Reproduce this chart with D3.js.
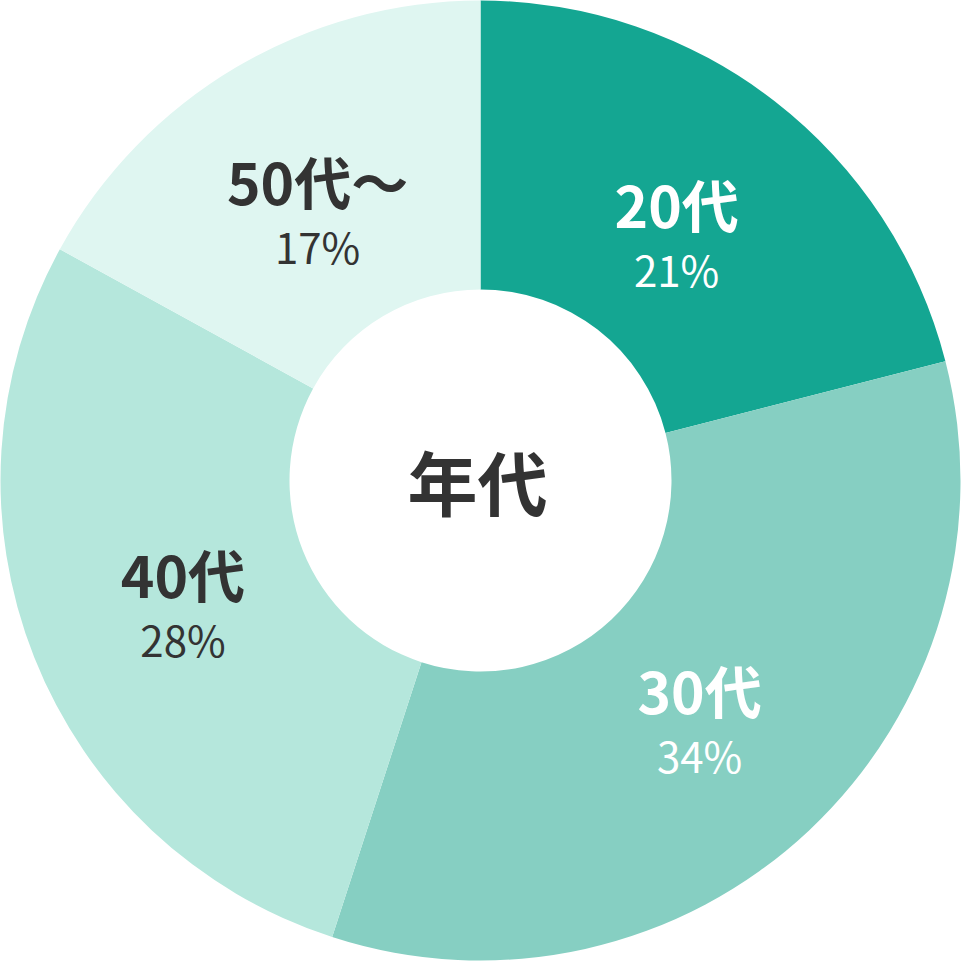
<!DOCTYPE html>
<html><head><meta charset="utf-8">
<script src="https://cdn.jsdelivr.net/npm/d3@7/dist/d3.min.js"></script>
<style>html,body{margin:0;padding:0;background:#fff;}svg{display:block;}</style>
</head><body>
<svg id="c" width="961" height="961"></svg>
<script>
const categories = ["20代", "30代", "40代", "50代～"];
const values = [21, 34, 28, 17];
const percentLabels = ["21%", "34%", "28%", "17%"];
const colors = ["#14a692", "#86cfc2", "#b5e7dc", "#dff6f1"];
const textColors = ["#ffffff", "#ffffff", "#333333", "#333333"];
const centerTitle = "年代";

const W = 961, H = 961, cx = 480.5, cy = 480.5;
const outerR = 480, innerR = 191;
const svg = d3.select("#c");
const g = svg.append("g").attr("transform", `translate(${cx},${cy})`);

const data = categories.map((c, i) => ({cat: c, v: values[i], pct: percentLabels[i], color: colors[i], tc: textColors[i]}));
const pie = d3.pie().value(d => d.v).sort(null);
const arcs = pie(data);
const arc = d3.arc().innerRadius(innerR).outerRadius(outerR);
const labelArc = d3.arc().innerRadius(320).outerRadius(320);

g.selectAll("path").data(arcs).join("path")
  .attr("d", arc).attr("fill", d => d.data.color);

const font = "'Noto Sans CJK JP', 'Noto Sans', sans-serif";
const lbl = g.selectAll("text.lbl").data(arcs).join("text").attr("class", "lbl")
  .attr("transform", d => `translate(${labelArc.centroid(d)})`)
  .attr("text-anchor", "middle")
  .attr("font-family", font)
  .attr("fill", d => d.data.tc);
lbl.append("tspan").text(d => d.data.cat)
  .attr("x", 0).attr("y", 0)
  .attr("font-weight", 700).attr("font-size", 57);
lbl.append("tspan").text(d => d.data.pct)
  .attr("x", 0).attr("y", 59)
  .attr("font-weight", 400).attr("font-size", 42);

g.append("text").text(centerTitle).attr("text-anchor", "middle").attr("y", 30)
  .attr("x", -3)
  .attr("font-family", font).attr("font-weight", 700).attr("font-size", 70)
  .attr("fill", "#333333");
</script>
</body></html>
